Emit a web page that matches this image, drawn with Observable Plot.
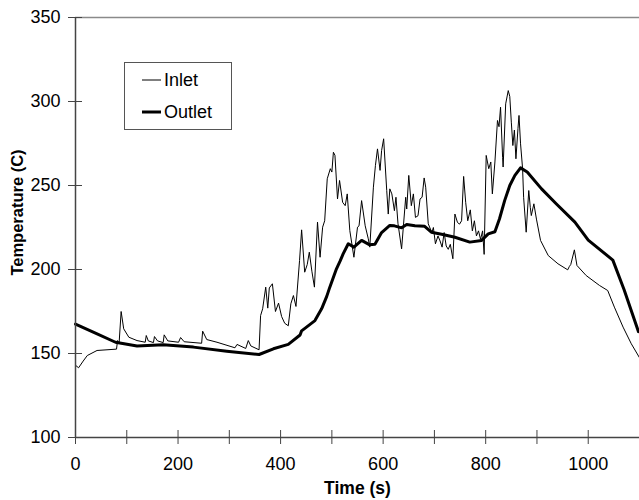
<!DOCTYPE html>
<html>
<head>
<meta charset="utf-8">
<script src="https://cdn.jsdelivr.net/npm/d3@7"></script>
<script src="https://cdn.jsdelivr.net/npm/@observablehq/plot@0.6"></script>
<style>
  html, body { margin: 0; padding: 0; background: #fff; }
  #wrap { position: relative; width: 639px; height: 500px; font-family: "Liberation Sans", Arial, sans-serif; }
  #legend { position: absolute; left: 124px; top: 62px; }
</style>
</head>
<body>
<div id="wrap"></div>
<script>
// ---- data ----
const seriesNames = ["Inlet", "Outlet"];
const xTitle = "Time (s)";
const yTitle = "Temperature (C)";
const xTicks = [0, 100, 200, 300, 400, 500, 600, 700, 800, 900, 1000];
const xTickLabels = [0, 200, 400, 600, 800, 1000];
const yTicks = [100, 150, 200, 250, 300, 350];

const inletTime = [0, 6, 15, 23, 42, 80, 82, 85, 89, 94, 104, 120, 136, 138, 142, 152, 154, 160, 171, 173, 180, 201, 205, 212, 246, 248, 256, 276, 311, 315, 332, 337, 342, 358,
  361, 365, 371, 375, 378, 384, 390, 396, 402, 408, 415, 420, 425, 430, 437, 441, 447, 452, 456, 461, 466, 472, 477, 482, 486, 491, 497, 500, 503, 506, 511, 515, 521, 526, 530, 535, 543, 550, 553, 558, 565, 571, 574,
  581, 585, 589, 594, 597, 601, 607, 610, 613, 617, 622, 625, 629, 636, 644, 646, 650, 655, 659, 663, 668, 672, 676, 680, 683, 688, 695, 698, 702, 707, 711, 715, 719, 723, 727, 731, 736,
  740, 745, 749, 753, 757, 761, 765, 770, 774, 778, 782, 786, 790, 794, 797, 801, 806, 810, 813, 818, 823, 826, 829, 833, 834, 839, 844, 847, 850, 853, 856, 859, 863, 865, 868, 872, 874, 879, 884, 887, 889, 894, 899,
  907, 922, 941, 960, 963, 966, 973, 978, 996, 1022, 1038, 1051, 1068, 1084, 1100];
const inletTemp = [143, 141.5, 145.5, 148.8, 151.8, 152.6, 157.7, 156, 175, 164.7, 159.7, 157.7, 156.7, 160.7, 157.5, 156.5, 160.1, 157.5, 156.5, 161.1, 157.5, 156.7, 159.5, 157, 156.1, 163.3, 158.3, 156.7, 153.4, 155.4, 153, 157.7, 154.5, 152.2,
  172.6, 176.6, 189.5, 177, 189, 191.5, 175, 180, 172, 168, 166.5, 179.6, 184.5, 178, 205.4, 223.6, 198.4, 203, 210.3, 199, 189.5, 228.2, 207.3, 225.2, 229, 254, 260, 258, 269.8, 268, 242, 253, 240, 238, 245, 223.2, 207.3, 225.2, 226, 241, 226, 218.3, 213.3,
  249, 262, 271.8, 259, 270.8, 277.8, 247, 233, 248, 245, 235, 243, 227.2, 212.3, 243, 236, 256, 238, 245, 231, 232, 242, 243, 254.5, 249, 227.2, 222, 225, 215.3, 220, 217, 213.3, 222, 214, 212, 215, 206.4,
  233, 228, 227, 229, 255.4, 240, 229, 235.5, 223, 229, 220, 223, 218, 223, 209, 267.9, 260, 264, 245, 264, 288.7, 285, 296.6, 266.8, 261, 298.6, 306.5, 303, 287.7, 273.8, 283, 265.9, 284, 291.7, 274.8, 260, 243, 222.2, 247, 237, 232.1, 239.1, 230,
  217.3, 208.3, 203.4, 199.8, 201.7, 203, 211.7, 202.4, 196.4, 190.5, 187.5, 177.6, 165.7, 155.8, 147.5];

const outletTime = [0, 40, 78, 120, 171, 230, 295, 358, 386, 415, 438, 441, 467, 480, 490, 496, 509, 516, 522, 532, 543, 558, 573, 584, 597, 613, 622, 636, 646, 662, 681, 694, 714, 740, 769, 792, 805, 818, 827, 837, 847, 857, 868, 881, 909, 938, 974, 1000, 1048, 1070, 1098];
const outletTemp = [167.5, 162, 156.7, 154.5, 155.2, 153.8, 151.4, 149.4, 152.8, 155.4, 161, 163.5, 169.6, 176.6, 184, 189.5, 200.4, 205, 209.3, 215.3, 213.3, 217.3, 214.8, 215, 222, 226.2, 226, 224.8, 226.8, 226, 225.7, 222.2, 221, 219.2, 216.3, 217.3, 221.2, 222.5, 230.2, 241, 250, 256, 260.5, 258, 248, 239, 228.2, 217.5, 205.6, 188, 163];

const inlet = inletTime.map((t, i) => ({t, v: inletTemp[i]}));
const outlet = outletTime.map((t, i) => ({t, v: outletTemp[i]}));

const axisColor = "#444";
const fontSize = 18;

const chart = Plot.plot({
  width: 639,
  height: 500,
  marginLeft: 75,
  marginRight: 0,
  marginTop: 17,
  marginBottom: 63,
  style: {fontFamily: "'Liberation Sans', Arial, sans-serif", fontSize: fontSize + "px", background: "#fff", color: "#000", overflow: "visible"},
  x: {domain: [0, 1100]},
  y: {domain: [100, 350]},
  marks: [
    Plot.ruleY([350], {stroke: "#8a8a8a", strokeWidth: 1.5}),
    Plot.line(inlet, {x: "t", y: "v", stroke: "#000", strokeWidth: 1}),
    Plot.line(outlet, {x: "t", y: "v", stroke: "#000", strokeWidth: 3, strokeLinejoin: "round"}),
    Plot.ruleX([0], {stroke: axisColor, strokeWidth: 1.5}),
    Plot.ruleY([100], {stroke: axisColor, strokeWidth: 1.5}),
    Plot.axisY({ticks: yTicks, tickSize: 7, tickPadding: 8, label: null, stroke: axisColor, fontSize: fontSize, color: "#000"}),
    Plot.axisY({ticks: yTicks, tickSize: -7, tickFormat: () => "", label: null, stroke: axisColor}),
    Plot.axisX({ticks: xTicks, tickSize: 7, tickPadding: 13, label: null, stroke: axisColor, fontSize: fontSize,
      tickFormat: d => xTickLabels.includes(d) ? String(d) : ""}),
    Plot.axisX({ticks: xTicks, tickSize: -7, tickFormat: () => "", label: null, stroke: axisColor}),
    Plot.text([xTitle], {frameAnchor: "bottom", dy: 51, lineAnchor: "middle", fontWeight: "bold", fontSize: 17.5, fill: "#000"}),
    Plot.text([yTitle], {frameAnchor: "left", dx: -58, dy: -15, rotate: -90, lineAnchor: "middle", textAnchor: "middle", fontWeight: "bold", fontSize: 16.5, fill: "#000"})
  ]
});

const wrap = document.getElementById("wrap");
wrap.appendChild(chart);

// legend overlay
const ns = "http://www.w3.org/2000/svg";
const lg = document.createElementNS(ns, "svg");
lg.setAttribute("id", "legend");
lg.setAttribute("width", 108);
lg.setAttribute("height", 68);
const widths = [1, 3];
let html = `<rect x="0.5" y="0.5" width="107" height="67" fill="#fff" stroke="#555" stroke-width="1"/>`;
seriesNames.forEach((name, i) => {
  const yy = 18 + i * 32;
  html += `<line x1="18" x2="37" y1="${yy}" y2="${yy}" stroke="#000" stroke-width="${widths[i]}"/>`;
  html += `<text x="40" y="${yy}" dy="0.35em" font-size="${fontSize}" font-family="'Liberation Sans', Arial, sans-serif" fill="#000">${name}</text>`;
});
lg.innerHTML = html;
wrap.appendChild(lg);
</script>
</body>
</html>
